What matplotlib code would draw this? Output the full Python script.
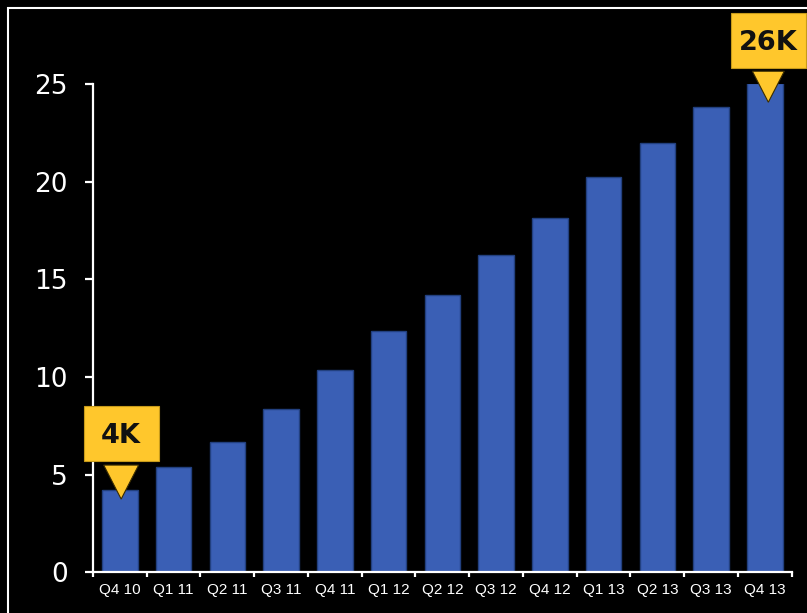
import matplotlib
matplotlib.use("Agg")
import matplotlib.pyplot as plt
import matplotlib.transforms as mtransforms
from matplotlib.patches import Polygon, Rectangle

# Quarterly values (thousands)
quarters = ["Q4 10", "Q1 11", "Q2 11", "Q3 11", "Q4 11", "Q1 12", "Q2 12",
            "Q3 12", "Q4 12", "Q1 13", "Q2 13", "Q3 13", "Q4 13"]
values = [4.21, 5.41, 6.66, 8.35, 10.34, 12.34, 14.20,
          16.23, 18.14, 20.22, 21.98, 23.81, 25.04]
y_ticks = [0, 5, 10, 15, 20, 25]

# Callouts: bar index and label
callout_index = [0, 12]
callout_text = ["4K", "26K"]

BAR_COLOR = "#3A5FB5"
BAR_EDGE = "#22407F"
YELLOW = "#FFC72C"
YELLOW_EDGE = "#C79A1A"

W, H = 807, 613
fig = plt.figure(figsize=(W / 100, H / 100), dpi=100, facecolor="black")
ax = fig.add_axes([93 / W, 1 - 572.3 / H, (791.7 - 93) / W, (572.3 - 84) / H])
ax.set_facecolor("black")

x = list(range(len(quarters)))
ax.bar(x, values, width=0.66, color=BAR_COLOR, edgecolor=BAR_EDGE, linewidth=1.0, zorder=2)

ax.set_xlim(-0.5, len(quarters) - 0.5)
ax.set_ylim(0, 25)

for side in ("top", "right"):
    ax.spines[side].set_visible(False)
for side in ("left", "bottom"):
    ax.spines[side].set_color("white")
    ax.spines[side].set_linewidth(1.6)

ax.set_yticks(y_ticks)
ax.set_yticklabels([str(t) for t in y_ticks], fontsize=19, color="white",
                   family="DejaVu Sans")
ax.tick_params(axis="y", direction="out", length=6, width=1.6, color="white", pad=12)

ax.set_xticks(x)
ax.set_xticklabels(quarters, fontsize=11, color="white", family="Liberation Sans")
ax.tick_params(axis="x", which="major", length=0, pad=8)
ax.set_xticks([i - 0.5 for i in range(len(quarters) + 1)], minor=True)
ax.tick_params(axis="x", which="minor", direction="out", length=3.5, width=1.6, color="white")


def callout(ax, i, text, tip_drop, tri_h, tri_w, gap, dx, box_w=75, box_h=55):
    # pixel-space shapes anchored at the top of bar i
    anchor = mtransforms.ScaledTranslation(i, values[i], ax.transData)
    tr = mtransforms.Affine2D() + anchor
    tip_y = -tip_drop
    tri_top = tip_y + tri_h
    tri = Polygon([(dx - tri_w / 2, tri_top), (dx + tri_w / 2, tri_top), (dx, tip_y)],
                  closed=True, facecolor=YELLOW, edgecolor="#3a2c00", linewidth=0.8,
                  transform=tr, clip_on=False, zorder=5)
    ax.add_artist(tri)
    box_bottom = tri_top + gap
    box = Rectangle((dx - box_w / 2, box_bottom), box_w, box_h, facecolor=YELLOW,
                    edgecolor=YELLOW_EDGE, linewidth=0.8, transform=tr,
                    clip_on=False, zorder=5)
    ax.add_artist(box)
    ax.text(dx, box_bottom + box_h / 2 - 2, text, transform=tr, ha="center",
            va="center", fontsize=19.5, fontweight="bold", color="#111111",
            family="DejaVu Sans", zorder=6, clip_on=False)


callout(ax, callout_index[0], callout_text[0], tip_drop=9, tri_h=34, tri_w=35, gap=4, dx=1.3)
callout(ax, callout_index[1], callout_text[1], tip_drop=19, tri_h=31, tri_w=32, gap=3, dx=3.5)

# white frame running off the right and bottom edges
frame = Rectangle((8 / W, -0.1), 1.2, (H - 8) / H + 0.1, transform=fig.transFigure,
                  fill=False, edgecolor="white", linewidth=1.5, clip_on=False)
fig.add_artist(frame)

fig.savefig("out.png", dpi=100, facecolor="black")
